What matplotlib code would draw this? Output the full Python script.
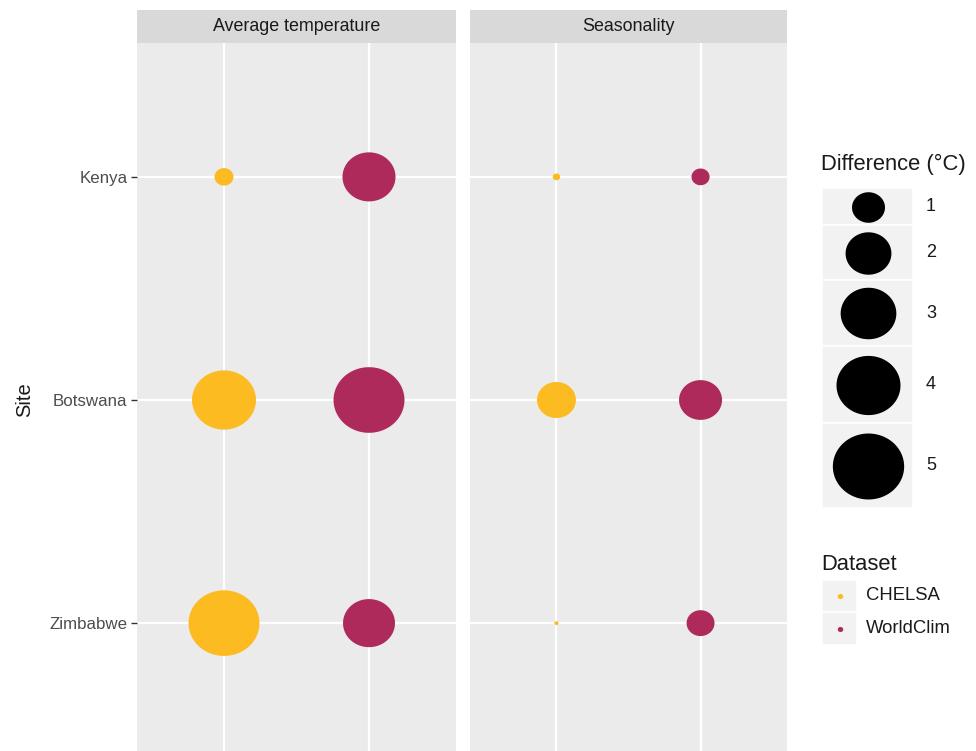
import numpy as np
import matplotlib
matplotlib.use("Agg")
import matplotlib.pyplot as plt
from matplotlib.path import Path
from matplotlib.patches import Rectangle

# ---- data -------------------------------------------------------------
sites = ["Kenya", "Botswana", "Zimbabwe"]
datasets = ["CHELSA", "WorldClim"]
variables = ["Average temperature", "Seasonality"]

# absolute difference (°C) per site, one list per dataset and variable
chelsa_avg_temp = [0.30, 4.00, 4.95]
worldclim_avg_temp = [2.71, 4.95, 2.60]
chelsa_seasonality = [0.03, 1.42, 0.005]
worldclim_seasonality = [0.27, 1.75, 0.70]

size_breaks = [1, 2, 3, 4, 5]
dataset_colors = ["#FDBB22", "#AE2A5A"]

series_by_variable = {
    "Average temperature": [chelsa_avg_temp, worldclim_avg_temp],
    "Seasonality": [chelsa_seasonality, worldclim_seasonality],
}

# ---- figure setup -----------------------------------------------------
W, H, DPI = 976, 751, 100
plt.rcParams["font.family"] = ["Liberation Sans", "DejaVu Sans"]
fig = plt.figure(figsize=(W / DPI, H / DPI), dpi=DPI)
fig.patch.set_facecolor("white")

PX2PT = 72 / DPI


def marker_size(v):
    """Area scale: marker diameter grows with sqrt of the difference."""
    d_px = 2 + 31 * np.sqrt(np.asarray(v, dtype=float))
    return (d_px * PX2PT) ** 2


theta = np.linspace(0, 2 * np.pi, 97)
blob = Path(np.column_stack([np.cos(theta), 0.925 * np.sin(theta)]), closed=True)


def fx(px):
    return px / W


def fy(py):
    return 1 - py / H


panel_top, panel_bot = 43, 757
strip_top = 9.5
panel_x = [(137, 456), (470, 787)]
y_pos = np.arange(1, len(sites) + 1)

for i, (var, (left, right)) in enumerate(zip(variables, panel_x)):
    ax = fig.add_axes([fx(left), fy(panel_bot), (right - left) / W,
                       (panel_bot - panel_top) / H])
    ax.set_facecolor("#EBEBEB")
    ax.set_xlim(0.4, len(datasets) + 0.6)
    ax.set_ylim(len(sites) + 0.6, 0.4)
    ax.set_xticks(np.arange(1, len(datasets) + 1))
    ax.set_yticks(y_pos)
    ax.grid(True, color="white", lw=1.6)
    ax.set_axisbelow(True)
    for s in ax.spines.values():
        s.set_visible(False)
    ax.tick_params(axis="x", length=0, labelbottom=False)
    if i == 0:
        ax.set_yticklabels(sites)
        ax.tick_params(axis="y", length=4.5, width=1.0, color="#333333",
                       labelcolor="#4D4D4D", labelsize=12.2, pad=2.5)
    else:
        ax.tick_params(axis="y", length=0, labelleft=False)

    for j, (vals, col) in enumerate(zip(series_by_variable[var], dataset_colors)):
        ax.scatter(np.full(len(sites), j + 1), y_pos, s=marker_size(vals),
                   c=col, marker=blob, linewidths=0, zorder=3)

    # facet strip
    sax = fig.add_axes([fx(left), fy(panel_top), (right - left) / W,
                        (panel_top - strip_top) / H])
    sax.set_facecolor("#D9D9D9")
    sax.set_xticks([])
    sax.set_yticks([])
    for s in sax.spines.values():
        s.set_visible(False)
    sax.text(0.5, 0.48, var, ha="center", va="center", fontsize=12.9,
             color="#1A1A1A", transform=sax.transAxes)

fig.text(fx(25), fy(400), "Site", rotation=90, ha="center", va="center",
         fontsize=14.5, color="#1A1A1A")

# ---- legends ----------------------------------------------------------
lax = fig.add_axes([0, 0, 1, 1])
lax.set_xlim(0, W)
lax.set_ylim(H, 0)
lax.axis("off")

lax.text(821, 164, "Difference (°C)", fontsize=15.8, ha="left", va="center",
         color="#1A1A1A")
key_edges = [188, 225, 280, 346, 423, 508]
for k, v in enumerate(size_breaks):
    top, bot = key_edges[k], key_edges[k + 1]
    lax.add_patch(Rectangle((822, top), 91, bot - top, facecolor="#F2F2F2",
                            edgecolor="white", lw=1.2))
    cy = (top + bot) / 2
    lax.scatter([867.5], [cy], s=marker_size(v), c="black", marker=blob,
                linewidths=0)
    lax.text(926, cy, str(v), fontsize=13, ha="left", va="center",
             color="#1A1A1A")

lax.text(821, 564, "Dataset", fontsize=15.8, ha="left", va="center",
         color="#1A1A1A")
ds_edges = [580, 612, 645]
for k, (name, col) in enumerate(zip(datasets, dataset_colors)):
    top, bot = ds_edges[k], ds_edges[k + 1]
    lax.add_patch(Rectangle((822, top), 35, bot - top, facecolor="#F2F2F2",
                            edgecolor="white", lw=1.2))
    cy = (top + bot) / 2
    lax.scatter([839.5], [cy], s=(5.5 * PX2PT) ** 2, c=col, marker=blob,
                linewidths=0)
    lax.text(866, cy, name, fontsize=13.3, ha="left", va="center",
             color="#1A1A1A")

fig.savefig("out.png", dpi=DPI)
